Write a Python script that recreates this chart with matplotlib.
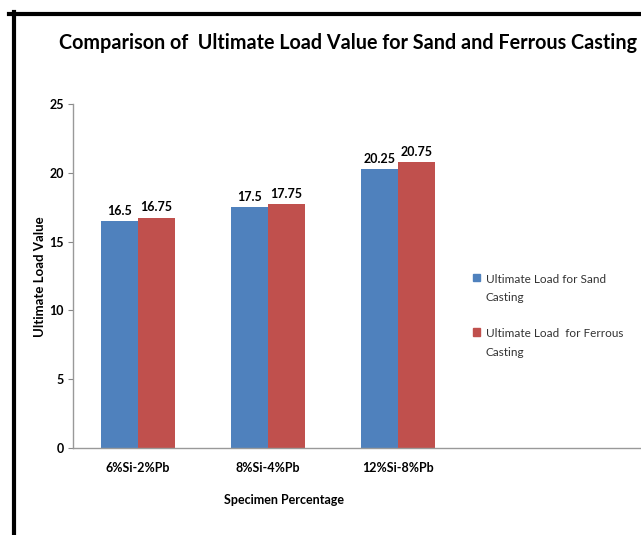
import matplotlib
matplotlib.use("Agg")
import matplotlib.pyplot as plt
import matplotlib.patches as mpatches
from matplotlib.legend_handler import HandlerPatch
import numpy as np

categories = ['6%Si-2%Pb', '8%Si-4%Pb', '12%Si-8%Pb']
sand = [16.5, 17.5, 20.25]
ferrous = [16.75, 17.75, 20.75]
sand_labels = ['16.5', '17.5', '20.25']
ferrous_labels = ['16.75', '17.75', '20.75']
yticks = [0, 5, 10, 15, 20, 25]

plt.rcParams['font.family'] = ['Lato', 'DejaVu Sans']

W, H = 641, 535
fig = plt.figure(figsize=(W / 100, H / 100), dpi=100)

# plot area in pixels: left 73, top 104, bottom 448, right edge of picture
ax = fig.add_axes([73 / W, 1 - 448 / H, 1 - 73 / W, (448 - 104) / H])

x = np.arange(len(categories))
bw = 0.285
blue = '#4F81BD'
red = '#C0504D'
b1 = ax.bar(x - bw / 2, sand, bw, color=blue)
b2 = ax.bar(x + bw / 2, ferrous, bw, color=red)

for rect, lab in zip(b1, sand_labels):
    ax.annotate(lab, (rect.get_x() + rect.get_width() / 2, rect.get_height()),
                xytext=(0, 3), textcoords='offset points', ha='center', va='bottom',
                fontsize=9, fontweight='bold')
for rect, lab in zip(b2, ferrous_labels):
    ax.annotate(lab, (rect.get_x() + rect.get_width() / 2, rect.get_height()),
                xytext=(0, 3), textcoords='offset points', ha='center', va='bottom',
                fontsize=9, fontweight='bold')

ax.set_ylim(0, 25)
ax.set_xlim(-0.5, -0.5 + (W - 73) / 130)
ax.set_yticks(yticks)
ax.set_xticks(x)
ax.set_xticklabels(categories, fontsize=9, fontweight='bold')
ax.tick_params(axis='x', length=0, pad=10)
ax.tick_params(axis='y', length=3.5, color='#888888', labelsize=9, pad=3)
for lab in ax.get_yticklabels():
    lab.set_fontweight('bold')
for s in ['top', 'right']:
    ax.spines[s].set_visible(False)
for s in ['left', 'bottom']:
    ax.spines[s].set_color('#999999')
    ax.spines[s].set_linewidth(1)

fig.text(40 / W, 1 - 277 / H, 'Ultimate Load Value', rotation=90, ha='center', va='center',
         fontsize=9.5, fontweight='bold')
fig.text(284 / W, 1 - 500 / H, 'Specimen Percentage', ha='center', va='center',
         fontsize=9, fontweight='bold')
fig.text(348 / W, 1 - 43 / H, 'Comparison of  Ultimate Load Value for Sand and Ferrous Casting',
         ha='center', va='center', fontsize=14.2, fontweight='bold')


# legend square sits next to the first line of the two-line label
def top_square(legend, orig_handle, xdescent, ydescent, width, height, fontsize):
    return mpatches.Rectangle((-xdescent, -ydescent + 0.95 * fontsize), width, height)


handles = [mpatches.Patch(color=blue, label='Ultimate Load for Sand\nCasting'),
           mpatches.Patch(color=red, label='Ultimate Load  for Ferrous\nCasting')]
leg = fig.legend(handles=handles, loc='upper left', bbox_to_anchor=(462 / W, 1 - 263 / H),
                 frameon=False, fontsize=8.5, handlelength=0.6, handleheight=0.6,
                 handletextpad=0.5, labelspacing=2.1, labelcolor='#333333',
                 handler_map={mpatches.Patch: HandlerPatch(patch_func=top_square)})
for t in leg.get_texts():
    t.set_linespacing(1.85)

# black frame lines on top and left
fig.add_artist(plt.Line2D([9 / W, 1], [1 - 13.5 / H, 1 - 13.5 / H], color='black', lw=3))
fig.add_artist(plt.Line2D([13.5 / W, 13.5 / W], [1 - 12 / H, 0], color='black', lw=3))

fig.savefig('out.png', dpi=100)
